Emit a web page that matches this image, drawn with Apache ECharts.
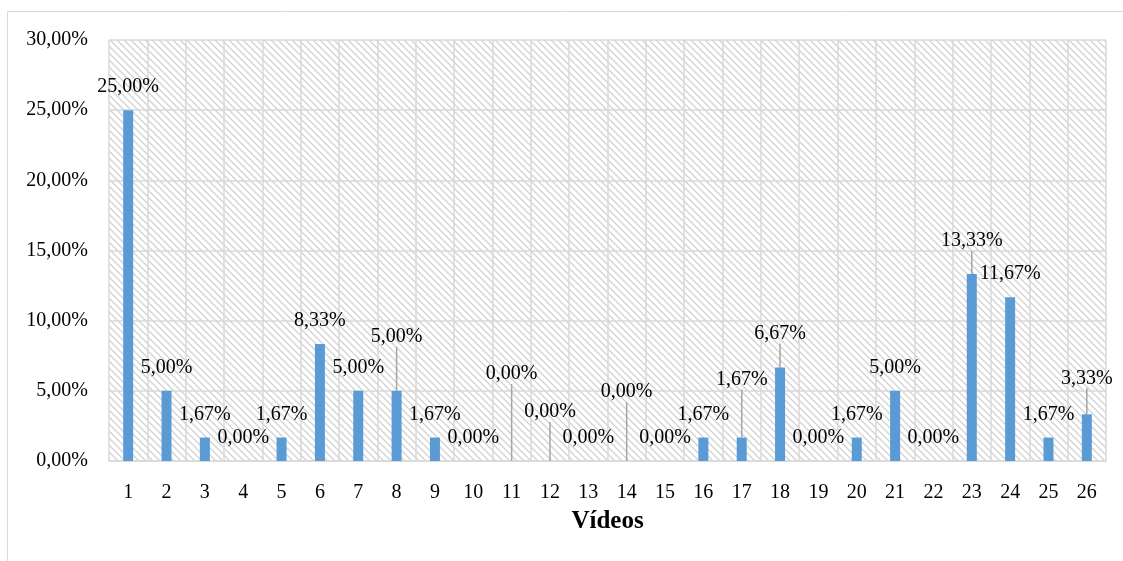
<!DOCTYPE html>
<html>
<head>
<meta charset="utf-8">
<script src="https://cdn.jsdelivr.net/npm/echarts@6/dist/echarts.min.js"></script>
<style>
  html, body { margin: 0; padding: 0; background: #ffffff; }
  #chart { width: 1123px; height: 561px; }
</style>
</head>
<body>
<div id="chart"></div>
<script>
// Share of mentions per video (percent)
const videos = ['1','2','3','4','5','6','7','8','9','10','11','12','13','14','15','16','17','18','19','20','21','22','23','24','25','26'];
const shares = [25.00, 5.00, 1.67, 0.00, 1.67, 8.33, 5.00, 5.00, 1.67, 0.00, 0.00, 0.00, 0.00, 0.00, 0.00, 1.67, 1.67, 6.67, 0.00, 1.67, 5.00, 0.00, 13.33, 11.67, 1.67, 3.33];
const yTicks = [0, 5, 10, 15, 20, 25, 30];
const axisTitle = 'Vídeos';

// Labels lifted above their bars, joined back by a leader line (vertical shift in px)
const liftedLabels = { 7: -31, 10: -64, 11: -26, 13: -46, 16: -35, 17: -11, 22: -10, 25: -13 };

const FONT = '"Liberation Serif", "Times New Roman", serif';
const pct = v => v.toFixed(2).replace('.', ',') + '%';

// Diagonal hatch used as the plot-area fill
function hatchPattern() {
  const s = 7;
  const c = document.createElement('canvas');
  c.width = s; c.height = s;
  const g = c.getContext('2d');
  g.fillStyle = '#ffffff';
  g.fillRect(0, 0, s, s);
  g.strokeStyle = '#d2d2d2';
  g.lineWidth = 1.3;
  g.beginPath();
  g.moveTo(-1, -1); g.lineTo(s + 1, s + 1);
  g.moveTo(-1, s - 1); g.lineTo(1, s + 1);
  g.moveTo(s - 1, -1); g.lineTo(s + 1, 1);
  g.stroke();
  return c;
}

const chart = echarts.init(document.getElementById('chart'), null, { renderer: 'canvas' });

chart.setOption({
  animation: false,
  backgroundColor: '#ffffff',
  textStyle: { fontFamily: FONT },
  graphic: [{
    type: 'rect',
    shape: { x: 7.5, y: 11.5, width: 1300, height: 700 },
    style: { fill: 'none', stroke: '#d9d9d9', lineWidth: 1 },
    silent: true
  }],
  grid: {
    left: 109, right: 17, top: 40, bottom: 100,
    show: true,
    backgroundColor: { image: hatchPattern(), repeat: 'repeat' },
    borderWidth: 0
  },
  xAxis: {
    type: 'category',
    data: videos,
    boundaryGap: true,
    name: axisTitle,
    nameLocation: 'middle',
    nameGap: 48,
    nameTextStyle: { fontFamily: FONT, fontSize: 25, fontWeight: 'bold', color: '#000000' },
    axisLine: { show: true, lineStyle: { color: '#d9d9d9', width: 1.5 } },
    axisTick: { show: false },
    axisLabel: { fontFamily: FONT, fontSize: 20, color: '#000000', margin: 22, interval: 0 },
    splitLine: { show: true, interval: 0, lineStyle: { color: '#d9d9d9', width: 1.5 } }
  },
  yAxis: {
    type: 'value',
    min: yTicks[0],
    max: yTicks[yTicks.length - 1],
    interval: yTicks[1] - yTicks[0],
    axisLine: { show: false },
    axisTick: { show: false },
    axisLabel: { fontFamily: FONT, fontSize: 20, color: '#000000', margin: 21, formatter: v => pct(v) },
    splitLine: { show: true, lineStyle: { color: '#d9d9d9', width: 1.5 } }
  },
  series: [{
    type: 'bar',
    barWidth: 10,
    itemStyle: { color: '#5b9bd5' },
    data: shares.map((v, i) => ({
      value: v,
      labelLine: { show: liftedLabels[i] !== undefined, lineStyle: { color: '#a6a6a6', width: 1.5 } }
    })),
    label: {
      show: true,
      position: 'top',
      distance: 13,
      fontFamily: FONT,
      fontSize: 20,
      color: '#000000',
      formatter: p => pct(p.value)
    },
    labelLayout: p => (liftedLabels[p.dataIndex] !== undefined ? { dy: liftedLabels[p.dataIndex] } : {})
  }]
});
</script>
</body>
</html>
